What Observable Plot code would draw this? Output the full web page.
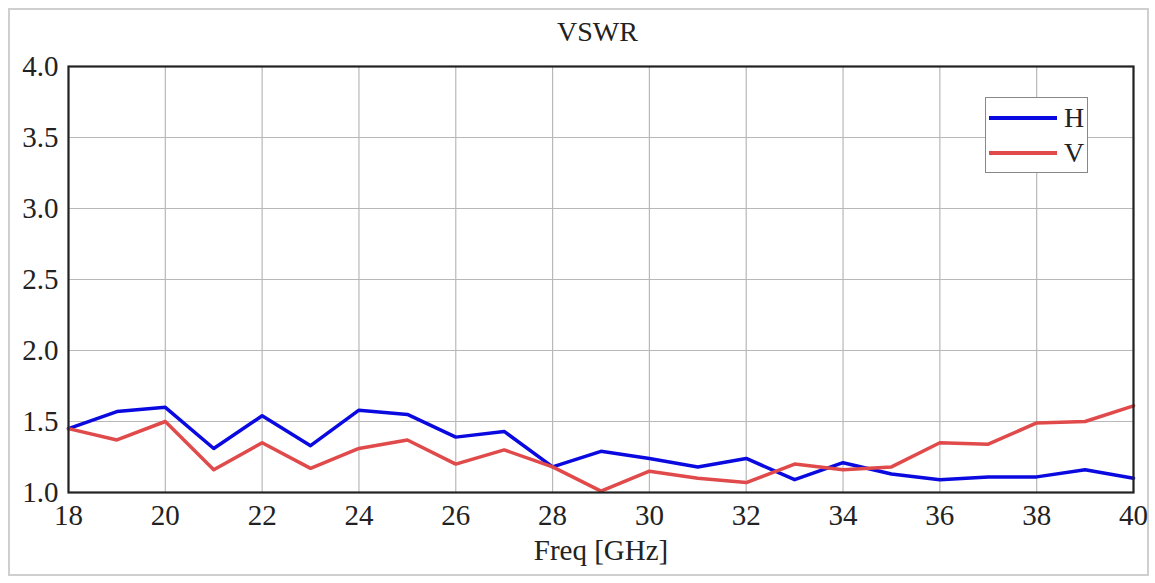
<!DOCTYPE html>
<html>
<head>
<meta charset="utf-8">
<script src="https://cdn.jsdelivr.net/npm/d3@7"></script>
<script src="https://cdn.jsdelivr.net/npm/@observablehq/plot@0.6"></script>
<style>
  html, body { margin: 0; padding: 0; background: #fff; }
  #wrap { position: relative; width: 1155px; height: 583px; overflow: hidden; font-family: "Liberation Serif", "Times New Roman", serif; }
  #border { position: absolute; left: 8px; top: 8px; width: 1141px; height: 568px; border: 2px solid #cfcfcf; box-sizing: border-box; }
  #title { position: absolute; left: 0; width: 1195px; top: 16px; text-align: center; font-size: 28px; color: #222; }
  #chart { position: absolute; left: 0; top: 0; }
  #legend { position: absolute; left: 985px; top: 97px; width: 103px; height: 76px; border: 1.5px solid #888; box-sizing: border-box; background: #fff; }
  .li { position: absolute; left: 3px; display: flex; align-items: center; font-size: 28px; color: #222; }
  .sw { width: 68px; height: 3.5px; margin-right: 7px; }
</style>
</head>
<body>
<div id="wrap">
  <div id="border"></div>
  <div id="chart"></div>
  <div id="title">VSWR</div>
  <div id="legend"></div>
</div>
<script>
const freq  = [18,19,20,21,22,23,24,25,26,27,28,29,30,31,32,33,34,35,36,37,38,39,40];
const vswrH = [1.45,1.57,1.60,1.31,1.54,1.33,1.58,1.55,1.39,1.43,1.18,1.29,1.24,1.18,1.24,1.09,1.21,1.13,1.09,1.11,1.11,1.16,1.10];
const vswrV = [1.45,1.37,1.50,1.16,1.35,1.17,1.31,1.37,1.20,1.30,1.18,1.01,1.15,1.10,1.07,1.20,1.16,1.18,1.35,1.34,1.49,1.50,1.61];
const seriesNames = ["H", "V"];
const seriesColors = ["#0a0ae0", "#e04a4a"];
const xTicks = [18,20,22,24,26,28,30,32,34,36,38,40];
const yTicks = [1.0,1.5,2.0,2.5,3.0,3.5,4.0];

const rows = [];
freq.forEach((f, i) => {
  rows.push({freq: f, vswr: vswrH[i], pol: "H"});
  rows.push({freq: f, vswr: vswrV[i], pol: "V"});
});

const plot = Plot.plot({
  width: 1155,
  height: 583,
  marginLeft: 68,
  marginRight: 22,
  marginTop: 66,
  marginBottom: 91,
  style: { fontFamily: "Liberation Serif, Times New Roman, serif", fontSize: "29px", color: "#222", background: "transparent" },
  x: { domain: [18, 40], ticks: xTicks, tickSize: 0, tickPadding: 12, label: null },
  y: { domain: [1, 4], ticks: yTicks, tickSize: 0, tickPadding: 10, tickFormat: d3.format(".1f"), label: null },
  color: { domain: seriesNames, range: seriesColors },
  marks: [
    Plot.gridX(xTicks, { stroke: "#b8b8b8", strokeOpacity: 1, strokeWidth: 1.2 }),
    Plot.gridY(yTicks, { stroke: "#b8b8b8", strokeOpacity: 1, strokeWidth: 1.2 }),
    Plot.axisX({ ticks: xTicks, tickSize: 0, tickPadding: 12, fontSize: 29, label: null }),
    Plot.axisY({ ticks: yTicks, tickSize: 0, tickPadding: 10, fontSize: 29, tickFormat: d3.format(".1f"), label: null }),
    Plot.line(rows, { x: "freq", y: "vswr", z: "pol", stroke: "pol", strokeWidth: 3.5 }),
    Plot.frame({ stroke: "#222", strokeWidth: 2.2 }),
    Plot.text(["Freq [GHz]"], { frameAnchor: "bottom", dy: 67, fontSize: 29, fill: "#222" })
  ]
});
document.getElementById("chart").appendChild(plot);

const leg = document.getElementById("legend");
seriesNames.forEach((n, i) => {
  const d = document.createElement("div");
  d.className = "li";
  d.style.top = (i === 0 ? 4 : 39) + "px";
  d.innerHTML = `<span class="sw" style="background:${seriesColors[i]}"></span><span>${n}</span>`;
  leg.appendChild(d);
});
</script>
</body>
</html>
